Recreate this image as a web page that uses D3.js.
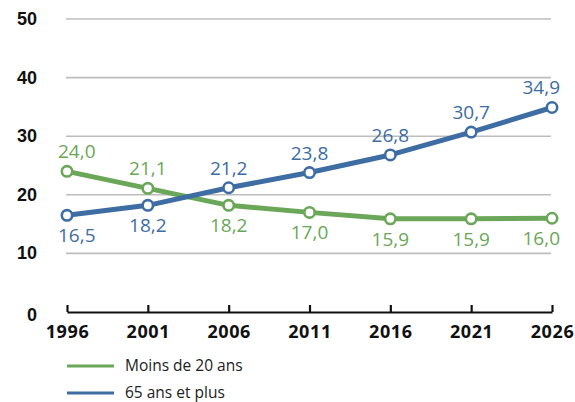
<!DOCTYPE html>
<html>
<head>
<meta charset="utf-8">
<script src="https://d3js.org/d3.v7.min.js"></script>
<style>
body{margin:0;background:#fff;}
</style>
</head>
<body>
<svg id="graf" width="575" height="402"></svg>
<script>
var annees = [1996, 2001, 2006, 2011, 2016, 2021, 2026];
var moins20 = [24.0, 21.1, 18.2, 17.0, 15.9, 15.9, 16.0];
var plus65 = [16.5, 18.2, 21.2, 23.8, 26.8, 30.7, 34.9];
var yTicks = [0, 10, 20, 30, 40, 50];
var legende = ["Moins de 20 ans", "65 ans et plus"];

var vert = "#6aa758", bleu = "#3d6da2";

var svg = d3.select("#graf");

var x = d3.scaleLinear().domain([1996, 2026]).range([67, 552]);
var y = d3.scaleLinear().domain([0, 50]).range([312, 19]);

// grille
svg.append("g").selectAll("line")
    .data(yTicks.filter(function(d){ return d > 0; }))
    .enter().append("line")
    .attr("x1", 66)
    .attr("x2", 551)
    .attr("y1", function(d){ return y(d); })
    .attr("y2", function(d){ return y(d); })
    .attr("stroke", "#bdbdbd")
    .attr("stroke-width", 1.6);

// labels axe y
svg.append("g").selectAll("text")
    .data(yTicks)
    .enter().append("text")
    .attr("x", 37)
    .attr("y", function(d){ return y(d) + (d == 0 ? 9 : 6); })
    .attr("text-anchor", "end")
    .style("font-family", "Liberation Sans, Arial, sans-serif")
    .style("font-weight", "bold")
    .style("font-size", "18px")
    .attr("fill", "#111")
    .text(function(d){ return d; });

// axe x
var axeX = d3.axisBottom(x)
    .tickValues(annees)
    .tickFormat(d3.format("d"))
    .tickSizeInner(-7)
    .tickSizeOuter(0)
    .tickPadding(18);

var gx = svg.append("g")
    .attr("transform", "translate(0," + y(0) + ")")
    .call(axeX);
gx.select(".domain").attr("stroke", "#111").attr("stroke-width", 2.2);
gx.selectAll(".tick line").attr("stroke", "#111").attr("stroke-width", 2.2);
gx.selectAll(".tick text")
    .attr("y", 26)
    .attr("dy", 0)
    .style("font-family", "Open Sans, sans-serif")
    .style("font-weight", "bold")
    .style("font-size", "18px")
    .style("letter-spacing", "0.6px")
    .attr("fill", "#111");

var ligne = d3.line()
    .x(function(d, i){ return x(annees[i]); })
    .y(function(d){ return y(d); });

function serie(valeurs, couleur, dessus){
    var g = svg.append("g");
    g.append("path")
        .datum(valeurs)
        .attr("d", ligne)
        .attr("fill", "none")
        .attr("stroke", couleur)
        .attr("stroke-width", 5)
        .attr("stroke-linejoin", "round");
    g.selectAll("circle")
        .data(valeurs)
        .enter().append("circle")
        .attr("cx", function(d, i){ return x(annees[i]); })
        .attr("cy", function(d){ return y(d); })
        .attr("r", 5.2)
        .attr("fill", "#fff")
        .attr("stroke", couleur)
        .attr("stroke-width", 2.6);
    g.selectAll("text")
        .data(valeurs)
        .enter().append("text")
        .attr("x", function(d, i){
            if(i == 0) return x(annees[i]) - 9;
            if(i == valeurs.length - 1) return x(annees[i]) + 8;
            return x(annees[i]);
        })
        .attr("y", function(d, i){ return y(d) + (dessus(i) ? -13 : 27); })
        .attr("text-anchor", function(d, i){
            if(i == 0) return "start";
            if(i == valeurs.length - 1) return "end";
            return "middle";
        })
        .style("font-family", "Open Sans, sans-serif")
        .style("font-size", "19px")
        .attr("fill", couleur)
        .text(function(d){ return d.toFixed(1).replace(".", ","); });
}

serie(moins20, vert, function(i){ return i < 2; });
serie(plus65, bleu, function(i){ return i >= 2; });

// legende
var leg = svg.append("g").selectAll("g")
    .data(legende)
    .enter().append("g")
    .attr("transform", function(d, i){ return "translate(0," + (366 + i * 27) + ")"; });
leg.append("line")
    .attr("x1", 67)
    .attr("x2", 114)
    .attr("stroke", function(d, i){ return i == 0 ? vert : bleu; })
    .attr("stroke-width", 3);
leg.append("text")
    .attr("x", 125)
    .attr("y", 5)
    .style("font-family", "Open Sans, sans-serif")
    .style("font-size", "15.5px")
    .attr("fill", "#222")
    .text(function(d){ return d; });
</script>
</body>
</html>
